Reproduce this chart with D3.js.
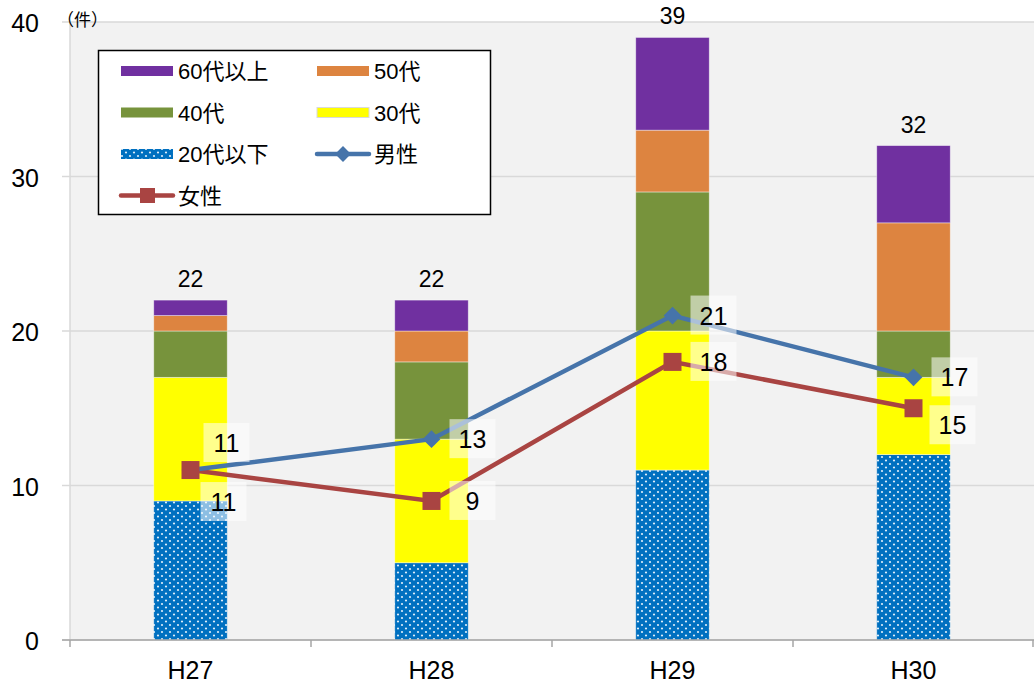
<!DOCTYPE html>
<html><head><meta charset="utf-8">
<script src="https://cdn.jsdelivr.net/npm/d3@7"></script>
<style>body{margin:0;background:#fff}svg{display:block}</style>
</head><body>
<svg id="c" width="1034" height="686"></svg>
<script>
const categories = ["H27","H28","H29","H30"];
const age20 = [9,5,11,12];
const age30 = [8,8,9,5];
const age40 = [3,5,9,3];
const age50 = [1,2,4,7];
const age60 = [1,2,6,5];
const totals = [22,22,39,32];
const male = [11,13,21,17];
const female = [11,9,18,15];
const yTicks = [0,10,20,30,40];
const seriesNames = ["20代以下","30代","40代","50代","60代以上"];
const maleLabelPos = ["upright","right","right","right"];
const femaleLabelPos = ["downright","right","right","lowright"];

const font = "'Liberation Sans','Noto Sans CJK JP',Arial,sans-serif";
const svg = d3.select("#c");
const W=1034,H=686;
const m={l:70,r:0,t:22,b:46};
const x=d3.scaleBand().domain(categories).range([m.l,W-m.r]).paddingInner(0).paddingOuter(0);
const y=d3.scaleLinear().domain([0,40]).range([H-m.b,m.t]);

const defs=svg.append("defs");
const pat=defs.append("pattern").attr("id","dots").attr("patternUnits","userSpaceOnUse").attr("width",8).attr("height",7);
pat.append("rect").attr("width",8).attr("height",7).attr("fill","#0070c0");
pat.append("circle").attr("cx",2).attr("cy",2).attr("r",1.1).attr("fill","#dfeefa");
pat.append("circle").attr("cx",6).attr("cy",5.5).attr("r",1.1).attr("fill","#dfeefa");

// plot background
svg.append("rect").attr("x",m.l).attr("y",y(40)).attr("width",W-m.l-m.r).attr("height",y(0)-y(40)).attr("fill","#f2f2f2");
// gridlines
svg.append("g").selectAll("line").data(yTicks).join("line")
  .attr("x1",m.l-8).attr("x2",W-m.r).attr("y1",d=>y(d)).attr("y2",d=>y(d))
  .attr("stroke","#d9d9d9").attr("stroke-width",1.5);
// y axis line
svg.append("line").attr("x1",m.l).attr("x2",m.l).attr("y1",y(40)).attr("y2",y(0)).attr("stroke","#d9d9d9").attr("stroke-width",1.5);
// y labels
svg.append("g").selectAll("text").data(yTicks).join("text")
  .attr("x",39).attr("y",d=>y(d)+10).attr("text-anchor","end")
  .attr("font-family",font).attr("font-size",25).attr("fill","#000").text(d=>d);
svg.append("text").attr("x",57).attr("y",26).attr("font-family",font).attr("font-size",17).text("（件）");

// stacked bars
const seriesVals=[age20,age30,age40,age50,age60];
const fills=["url(#dots)","#ffff00","#77933c","#dd8440","#7030a0"];
const tbl=categories.map((c,i)=>{const o={cat:c};seriesNames.forEach((s,j)=>o[s]=seriesVals[j][i]);return o;});
const stack=d3.stack().keys(seriesNames)(tbl);
const bw=x.bandwidth()*0.305;
svg.append("g").selectAll("g").data(stack).join("g").attr("fill",(d,i)=>fills[i])
  .selectAll("rect").data(d=>d).join("rect")
  .attr("x",d=>x(d.data.cat)+x.bandwidth()/2-bw/2).attr("width",bw)
  .attr("y",d=>y(d[1])).attr("height",d=>y(d[0])-y(d[1]))
  .attr("stroke","#ffffff").attr("stroke-opacity",0.5).attr("stroke-width",0.8);

// x axis
svg.append("line").attr("x1",m.l-8).attr("x2",W).attr("y1",y(0)).attr("y2",y(0)).attr("stroke","#a6a6a6").attr("stroke-width",1.5);
const bounds=categories.map(c=>x(c)).concat([W-1]);
svg.append("g").selectAll("line").data(bounds).join("line")
  .attr("x1",d=>d).attr("x2",d=>d).attr("y1",y(0)).attr("y2",y(0)+7).attr("stroke","#a6a6a6").attr("stroke-width",1.5);
svg.append("g").selectAll("text").data(categories).join("text")
  .attr("x",d=>x(d)+x.bandwidth()/2).attr("y",y(0)+39).attr("text-anchor","middle")
  .attr("font-family",font).attr("font-size",25).text(d=>d);

// total labels
svg.append("g").selectAll("text").data(totals).join("text")
  .attr("x",(d,i)=>x(categories[i])+x.bandwidth()/2).attr("y",d=>y(d)-13).attr("text-anchor","middle")
  .attr("font-family",font).attr("font-size",23).text(d=>d);

// lines
const cx=c=>x(c)+x.bandwidth()/2;
const line=d3.line().x((d,i)=>cx(categories[i])).y(d=>y(d));
svg.append("path").datum(female).attr("d",line).attr("fill","none").attr("stroke","#a94442").attr("stroke-width",4.5);
svg.append("path").datum(male).attr("d",line).attr("fill","none").attr("stroke","#4674aa").attr("stroke-width",4.5);
svg.append("g").selectAll("path").data(male).join("path")
  .attr("d",d3.symbol().type(d3.symbolDiamond2).size(200))
  .attr("transform",(d,i)=>`translate(${cx(categories[i])},${y(d)})`).attr("fill","#4674aa");
svg.append("g").selectAll("rect").data(female).join("rect")
  .attr("x",(d,i)=>cx(categories[i])-9).attr("y",d=>y(d)-9).attr("width",18).attr("height",18)
  .attr("fill","#a94442");

// point labels
function addLabels(vals,pos){
  const g=svg.append("g");
  vals.forEach((v,i)=>{
    const px=cx(categories[i]),py=y(v);
    let lx=px+18,ly=py-20;
    if(pos[i]==="upright"){lx=px+13;ly=py-47;}
    if(pos[i]==="downright"){lx=px+10;ly=py+12;}
    if(pos[i]==="lowright"){lx=px+16;ly=py-3;}
    g.append("rect").attr("x",lx).attr("y",ly).attr("width",46).attr("height",39).attr("fill","#ffffff").attr("fill-opacity",0.55);
    g.append("text").attr("x",lx+23).attr("y",ly+29).attr("text-anchor","middle")
      .attr("font-family",font).attr("font-size",25).text(v);
  });
}
addLabels(female,femaleLabelPos);
addLabels(male,maleLabelPos);

// legend
const lg=svg.append("g");
lg.append("rect").attr("x",98.5).attr("y",50.5).attr("width",392).attr("height",164).attr("fill","#fff").attr("stroke","#000").attr("stroke-width",1.5);
const legendItems=[
  {name:"60代以上",type:"bar",fill:fills[4],col:0,row:0},
  {name:"50代",type:"bar",fill:fills[3],col:1,row:0},
  {name:"40代",type:"bar",fill:fills[2],col:0,row:1},
  {name:"30代",type:"bar",fill:fills[1],col:1,row:1},
  {name:"20代以下",type:"bar",fill:fills[0],col:0,row:2},
  {name:"男性",type:"male",col:1,row:2},
  {name:"女性",type:"female",col:0,row:3}
];
legendItems.forEach(it=>{
  const sx=121+it.col*196, sy=71+it.row*41.5;
  if(it.type==="bar"){
    lg.append("rect").attr("x",sx).attr("y",sy-5).attr("width",52).attr("height",10).attr("fill",it.fill)
      .attr("stroke",it.name==="30代"?"#d9d9d9":"none").attr("stroke-width",1);
  } else if(it.type==="male"){
    lg.append("line").attr("x1",sx).attr("x2",sx+52).attr("y1",sy).attr("y2",sy).attr("stroke","#4674aa").attr("stroke-width",4.5).attr("stroke-linecap","round");
    lg.append("path").attr("d",d3.symbol().type(d3.symbolDiamond2).size(160)).attr("transform",`translate(${sx+26},${sy})`).attr("fill","#4674aa");
  } else {
    lg.append("line").attr("x1",sx).attr("x2",sx+52).attr("y1",sy).attr("y2",sy).attr("stroke","#a94442").attr("stroke-width",4.5).attr("stroke-linecap","round");
    lg.append("rect").attr("x",sx+19).attr("y",sy-7.5).attr("width",15).attr("height",15).attr("fill","#a94442");
  }
  lg.append("text").attr("x",sx+57).attr("y",sy+8).attr("font-family",font).attr("font-size",22).text(it.name);
});
</script>
</body></html>
